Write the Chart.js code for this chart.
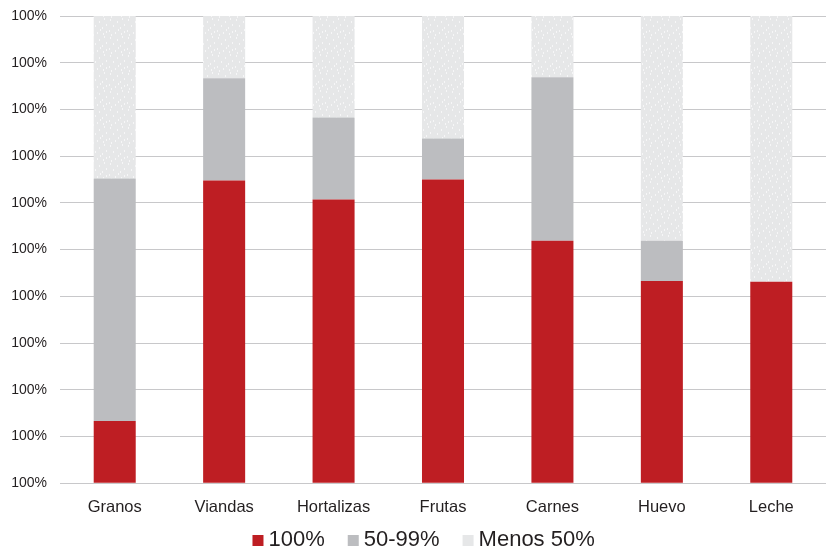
<!DOCTYPE html>
<html>
<head>
<meta charset="utf-8">
<script src="https://cdn.jsdelivr.net/npm/chart.js@4"></script>
<style>
  html, body { margin: 0; padding: 0; background: #fff; }
  #wrap { width: 829px; height: 558px; }
</style>
</head>
<body>
<div id="wrap"><canvas id="myChart" width="829" height="558"></canvas></div>
<script>
var categories = ["Granos", "Viandas", "Hortalizas", "Frutas", "Carnes", "Huevo", "Leche"];
var seriesNames = ["100%", "50-99%", "Menos 50%"];
var fullValues = [13.3, 64.8, 60.7, 65.0, 51.9, 43.3, 43.1];
var partValues = [51.9, 21.9, 17.6, 8.8, 35.0, 8.6, 0];
var lessValues = [34.8, 13.3, 21.7, 26.2, 13.1, 48.1, 56.9];
var yTicks = [0, 10, 20, 30, 40, 50, 60, 70, 80, 90, 100];
var seriesColors = ["#be1e23", "#bcbdc0", "#e6e7e8"];

// speckled light gray fill like the original
function speckle() {
  var c = document.createElement("canvas");
  c.width = 18; c.height = 18;
  var g = c.getContext("2d");
  g.fillStyle = "#e6e7e8";
  g.fillRect(0, 0, 18, 18);
  g.fillStyle = "#f6f6f7";
  var dots = [[2,1],[9,3],[14,0],[5,7],[12,9],[16,6],[1,12],[7,14],[13,15],[10,11],[3,16],[16,13]];
  dots.forEach(function (d) { g.fillRect(d[0], d[1], 1, 2); });
  return g.createPattern(c, "repeat");
}

// legend drawn below the axis, spaced like the original
var bottomLegend = {
  id: "bottomLegend",
  afterDraw: function (chart) {
    var ctx = chart.ctx;
    ctx.save();
    ctx.font = "22px 'Liberation Sans', Arial, sans-serif";
    ctx.textBaseline = "middle";
    ctx.textAlign = "left";
    var box = 11, gapText = 5, gapItem = 23, y = 540;
    var total = 0;
    seriesNames.forEach(function (n, i) {
      total += box + gapText + ctx.measureText(n).width + (i < seriesNames.length - 1 ? gapItem : 0);
    });
    var x = chart.width * 0.511 - total / 2;
    seriesNames.forEach(function (n, i) {
      ctx.fillStyle = seriesColors[i];
      ctx.fillRect(x, y - 5, box, box);
      x += box + gapText;
      ctx.fillStyle = "#231f20";
      ctx.fillText(n, x, y);
      x += ctx.measureText(n).width + gapItem;
    });
    ctx.restore();
  }
};

var lightFill = speckle();
Chart.defaults.font.family = "'Liberation Sans', Arial, sans-serif";
Chart.defaults.color = "#231f20";

new Chart("myChart", {
  type: "bar",
  data: {
    labels: categories,
    datasets: [
      { label: seriesNames[0], data: fullValues, backgroundColor: seriesColors[0] },
      { label: seriesNames[1], data: partValues, backgroundColor: seriesColors[1] },
      { label: seriesNames[2], data: lessValues, backgroundColor: lightFill }
    ]
  },
  plugins: [bottomLegend],
  options: {
    responsive: false,
    animation: false,
    datasets: { bar: { barPercentage: 0.384, categoryPercentage: 1 } },
    layout: { padding: { top: 16, right: 3, left: 0, bottom: 35 } },
    plugins: {
      tooltip: { enabled: false },
      legend: { display: false }
    },
    scales: {
      x: {
        stacked: true,
        grid: { display: false },
        border: { display: false },
        ticks: { font: { size: 16.5 }, padding: 6, color: "#231f20" }
      },
      y: {
        stacked: true,
        min: 0,
        max: 100,
        afterBuildTicks: function (s) { s.ticks = yTicks.map(function (v) { return { value: v }; }); },
        afterFit: function (s) { s.width = 60; s.paddingTop = 0; s.paddingBottom = 0; },
        grid: { color: "#c8c8ca", lineWidth: 1, drawTicks: false },
        border: { display: false },
        ticks: {
          font: { size: 14 },
          padding: 13,
          color: "#231f20",
          callback: function () { return "100%"; }
        }
      }
    }
  }
});
</script>
</body>
</html>
